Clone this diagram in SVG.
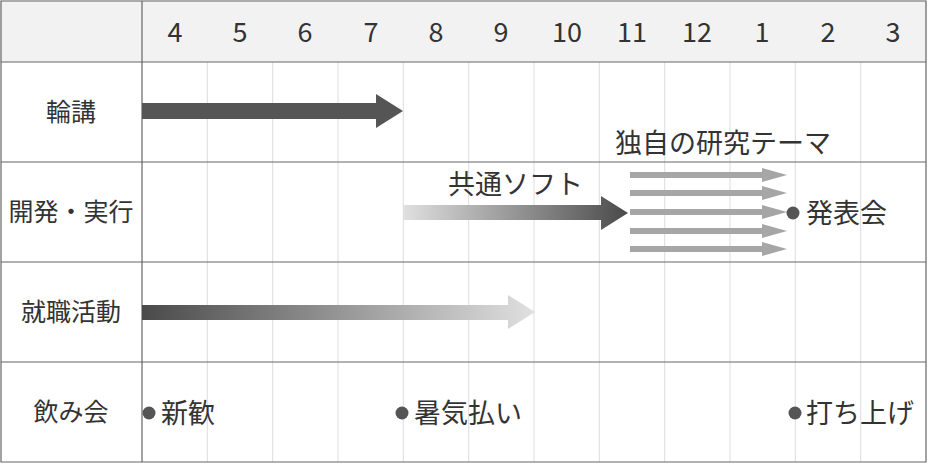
<svg xmlns="http://www.w3.org/2000/svg" width="928" height="465" viewBox="0 0 928 465">
<style>
text{font-family:"Noto Sans CJK JP","Noto Sans",sans-serif;fill:#333}
.m{font-size:27px;text-anchor:middle}
.l{font-size:25px;text-anchor:middle}
.t{font-size:27px}
.g{stroke:#ddd;stroke-width:1}
.b{stroke:#666;stroke-width:1.2;fill:none}
.s{fill:#a6a6a6}
</style>
<defs>
<linearGradient id="g1" x1="0" x2="1"><stop offset="0" stop-color="#e0e0e0"/><stop offset="1" stop-color="#4a4a4a"/></linearGradient>
<linearGradient id="g2" x1="0" x2="1"><stop offset="0" stop-color="#4a4a4a"/><stop offset="1" stop-color="#e0e0e0"/></linearGradient>
</defs>
<rect x="0" y="0" width="927" height="62" fill="#f2f2f2"/>
<g id="grid">
<path class="g" d="M207.3 62V462M272.7 62V462M338 62V462M403.3 62V462M468.7 62V462M534 62V462M599.3 62V462M664.7 62V462M730 62V462M795.3 62V462M860.7 62V462"/>
<path class="b" d="M1 1H926V462H1ZM142 1V462M1 62H926M1 162H926M1 262H926M1 362H926"/>
</g>
<g id="months">
<text class="m" x="175" y="42">4</text><text class="m" x="240" y="42">5</text><text class="m" x="305" y="42">6</text><text class="m" x="371" y="42">7</text><text class="m" x="436" y="42">8</text><text class="m" x="501" y="42">9</text><text class="m" x="567" y="42">10</text><text class="m" x="632" y="42">11</text><text class="m" x="697" y="42">12</text><text class="m" x="762" y="42">1</text><text class="m" x="828" y="42">2</text><text class="m" x="893" y="42">3</text>
</g>
<g id="rows">
<text class="l" x="71" y="121">輪講</text>
<text class="l" x="71" y="221">開発・実行</text>
<text class="l" x="71" y="321">就職活動</text>
<text class="l" x="71" y="421">飲み会</text>
</g>
<g id="connectors">
<path d="M142 103H376V94L403 111L376 128V119H142Z" fill="#555"/>
<path d="M403 205H601V196L628 213L601 230V220H403Z" fill="url(#g1)"/>
<path d="M142 305H508V295L535 312L508 329V320H142Z" fill="url(#g2)"/>
<g class="s">
<path d="M630 172H762V168L787 175L762 182V178H630Z"/>
<path d="M630 190H762V186L787 193L762 200V196H630Z"/>
<path d="M630 209H762V205L787 212L762 219V215H630Z"/>
<path d="M630 228H762V224L787 231L762 238V234H630Z"/>
<path d="M630 246H762V242L787 249L762 256V252H630Z"/>
</g>
</g>
<g id="labels">
<text class="t" x="615" y="153">独自の研究テーマ</text>
<text class="t" x="448" y="194">共通ソフト</text>
<circle cx="793" cy="213" r="6.5" fill="#555"/><text class="t" x="806" y="223">発表会</text>
<circle cx="149" cy="413" r="6.5" fill="#555"/><text class="t" x="161" y="423">新歓</text>
<circle cx="402" cy="413" r="6.5" fill="#555"/><text class="t" x="414" y="423">暑気払い</text>
<circle cx="795" cy="413" r="6.5" fill="#555"/><text class="t" x="806" y="423">打ち上げ</text>
</g>
</svg>
